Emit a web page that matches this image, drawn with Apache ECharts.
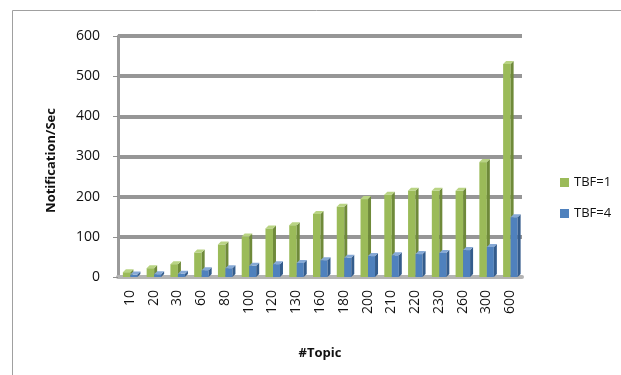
<!DOCTYPE html>
<html>
<head>
<meta charset="utf-8">
<script src="https://cdn.jsdelivr.net/npm/echarts@6/dist/echarts.min.js"></script>
<style>
  html, body { margin: 0; padding: 0; background: #fff; }
  #chart { width: 621px; height: 375px; }
</style>
</head>
<body>
<div id="chart"></div>
<script>
// Topic counts on the x axis
const topics = ['10', '20', '30', '60', '80', '100', '120', '130', '160', '180', '200', '210', '220', '230', '260', '300', '600'];
// Notifications per second for each time-between-firings setting
const tbf1 = [12, 22, 32, 61, 81, 101, 121, 129, 157, 175, 194, 205, 215, 215, 215, 286, 530];
const tbf4 = [6, 7, 8, 17, 22, 28, 32, 35, 42, 48, 52, 54, 57, 60, 67, 75, 149];
const yTicks = [0, 100, 200, 300, 400, 500, 600];

const FONT = '"Open Sans", "Liberation Sans", sans-serif';

// Pseudo-3D column: front face, darker right side and lighter top
function column(front, side, top, offsetFrom, offsetTo) {
  return function (params, api) {
    const idx = api.value(0);
    const val = api.value(1);
    const topPt = api.coord([idx, val]);
    const basePt = api.coord([idx, 0]);
    const x0 = topPt[0] + offsetFrom;
    const x1 = topPt[0] + offsetTo;
    const yt = topPt[1];
    const yb = basePt[1];
    const d = 3;
    return {
      type: 'group',
      children: [
        { type: 'rect', shape: { x: x0, y: yt, width: x1 - x0, height: yb - yt },
          style: { fill: front } },
        { type: 'polygon', shape: { points: [[x1, yt], [x1 + d, yt - d], [x1 + d, yb - d], [x1, yb]] },
          style: { fill: side } },
        { type: 'polygon', shape: { points: [[x0, yt], [x0 + d, yt - d], [x1 + d, yt - d], [x1, yt]] },
          style: { fill: top } }
      ]
    };
  };
}

const chart = echarts.init(document.getElementById('chart'), null, { renderer: 'canvas' });

chart.setOption({
  animation: false,
  backgroundColor: '#fff',
  textStyle: { fontFamily: FONT },
  graphic: [
    { type: 'polyline', shape: { points: [[12.5, 375], [12.5, 10.5], [621, 10.5]] },
      style: { stroke: '#a0a0a0', lineWidth: 1, fill: null } }
  ],
  legend: {
    orient: 'vertical',
    left: 555,
    top: 171,
    itemWidth: 9,
    itemHeight: 9,
    itemGap: 18,
    icon: 'rect',
    textStyle: { fontFamily: FONT, fontSize: 13, color: '#111' },
    data: [
      { name: 'TBF=1', itemStyle: { color: '#9bbb59' } },
      { name: 'TBF=4', itemStyle: { color: '#4f81bd' } }
    ]
  },
  grid: { left: 118, top: 36, width: 404, height: 241 },
  xAxis: {
    type: 'category',
    data: topics,
    name: '#Topic',
    nameLocation: 'middle',
    nameGap: 70,
    nameTextStyle: { fontFamily: FONT, fontSize: 13, fontWeight: 'bold', color: '#111' },
    axisLine: { show: true, lineStyle: { color: '#b4b4b4', width: 4 } },
    axisTick: { show: false },
    axisLabel: { rotate: 90, margin: 13, fontFamily: FONT, fontSize: 14, color: '#111', interval: 0 },
    splitLine: { show: false }
  },
  yAxis: {
    type: 'value',
    min: 0,
    max: 600,
    interval: 100,
    name: 'Notification/Sec',
    nameLocation: 'middle',
    nameGap: 60,
    nameTextStyle: { fontFamily: FONT, fontSize: 13, fontWeight: 'bold', color: '#111', padding: [0, 0, 0, -8] },
    axisLine: { show: true, lineStyle: { color: '#9a9a9a', width: 3 } },
    axisTick: { show: true, length: 5, lineStyle: { color: '#909090', width: 1 } },
    axisLabel: {
      margin: 18, fontFamily: FONT, fontSize: 14, color: '#111',
      formatter: v => (yTicks.indexOf(v) >= 0 ? String(v) : '')
    },
    splitLine: { show: true, lineStyle: { color: '#969696', width: 4 } }
  },
  series: [
    {
      name: 'TBF=1',
      type: 'custom',
      itemStyle: { color: '#9bbb59' },
      renderItem: column('#9bbb59', '#6f8a3a', '#b9d483', -7, 0.5),
      data: tbf1.map((v, i) => [i, v]),
      z: 2
    },
    {
      name: 'TBF=4',
      type: 'custom',
      itemStyle: { color: '#4f81bd' },
      renderItem: column('#4f81bd', '#345c8c', '#86a9d6', 0.5, 7.5),
      data: tbf4.map((v, i) => [i, v]),
      z: 3
    }
  ]
});
</script>
</body>
</html>
